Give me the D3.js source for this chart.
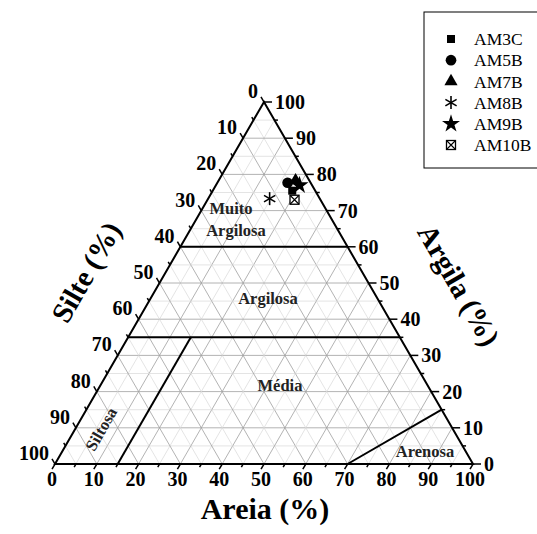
<!DOCTYPE html>
<html>
<head>
<meta charset="utf-8">
<script src="https://cdn.jsdelivr.net/npm/d3@7"></script>
<style>
  html, body { margin: 0; padding: 0; background: #fff; }
  svg { display: block; font-family: "Liberation Serif", "Times New Roman", serif; }
</style>
</head>
<body>
<svg id="chart" width="537" height="534"></svg>
<script>
// ---------- data ----------
const samples = ["AM3C", "AM5B", "AM7B", "AM8B", "AM9B", "AM10B"];
const sandPct = [19.0, 16.8, 18.4, 14.7, 20.0, 20.8];   // Areia (%)
const clayPct = [75.5, 77.7, 78.3, 73.3, 77.0, 73.0];   // Argila (%)
const markerShapes = ["square", "circle", "triangle", "asterisk", "star", "boxx"];
const tickValues = [0, 10, 20, 30, 40, 50, 60, 70, 80, 90, 100];
const classNames = ["Muito", "Argilosa", "Argilosa", "Média", "Siltosa", "Arenosa"];
// class boundaries in (sand, clay) composition
const boundaries = [
  [[0, 60], [40, 60]],   // clay 60
  [[0, 35], [65, 35]],   // clay 35
  [[15, 0], [15, 35]],   // sand 15
  [[70, 0], [85, 15]]    // sand - clay = 70
];

// ---------- geometry ----------
const svg = d3.select("#chart");
const L = 55, R = 473, B = 464;
const W = R - L, H = W * Math.sqrt(3) / 2;
const xs = d3.scaleLinear().domain([0, 100]).range([L, R]);
const ys = d3.scaleLinear().domain([0, 100]).range([B, B - H]);
const P = (s, c) => [xs(s + c / 2), ys(c)];

const g = svg.append("g");

// ---------- grid ----------
const gridVals = d3.range(5, 100, 5);
const gridLines = [];
gridVals.forEach(v => {
  const major = v % 10 === 0;
  gridLines.push({a: P(0, v), b: P(100 - v, v), major});        // clay const
  gridLines.push({a: P(v, 0), b: P(v, 100 - v), major});        // sand const
  gridLines.push({a: P(100 - v, 0), b: P(0, 100 - v), major});   // silt const
});
g.selectAll("line.grid").data(gridLines).join("line")
  .attr("x1", d => d.a[0]).attr("y1", d => d.a[1])
  .attr("x2", d => d.b[0]).attr("y2", d => d.b[1])
  .attr("stroke", d => d.major ? "#a0a0a0" : "#d8d8d8")
  .attr("stroke-width", d => d.major ? 0.8 : 0.7);

// ---------- class boundaries ----------
g.selectAll("line.bound").data(boundaries).join("line")
  .attr("x1", d => P(...d[0])[0]).attr("y1", d => P(...d[0])[1])
  .attr("x2", d => P(...d[1])[0]).attr("y2", d => P(...d[1])[1])
  .attr("stroke", "#000").attr("stroke-width", 2);

// ---------- triangle border ----------
g.append("path")
  .attr("d", d3.line()([P(0, 0), P(100, 0), P(0, 100)]) + "Z")
  .attr("fill", "none").attr("stroke", "#000").attr("stroke-width", 2)
  .attr("stroke-linejoin", "miter");

// ---------- ticks ----------
const minorTicks = d3.range(5, 100, 10);
const c60 = 0.5, s60 = Math.sqrt(3) / 2;
// bottom axis (Areia): ticks down-left
g.selectAll("line.tb").data(tickValues.concat(minorTicks)).join("line")
  .attr("x1", v => P(v, 0)[0]).attr("y1", B)
  .attr("x2", v => P(v, 0)[0] - c60 * (v % 10 ? 3.5 : 6))
  .attr("y2", v => B + s60 * (v % 10 ? 3.5 : 6))
  .attr("stroke", "#000").attr("stroke-width", 1.5);
// left axis (Silte): ticks up-left
g.selectAll("line.tl").data(tickValues.concat(minorTicks)).join("line")
  .attr("x1", v => P(0, 100 - v)[0]).attr("y1", v => P(0, 100 - v)[1])
  .attr("x2", v => P(0, 100 - v)[0] - c60 * (v % 10 ? 3.5 : 6))
  .attr("y2", v => P(0, 100 - v)[1] - s60 * (v % 10 ? 3.5 : 6))
  .attr("stroke", "#000").attr("stroke-width", 1.5);
// right axis (Argila): ticks horizontal right
g.selectAll("line.tr").data(tickValues.concat(minorTicks)).join("line")
  .attr("x1", v => P(100 - v, v)[0]).attr("y1", v => P(100 - v, v)[1])
  .attr("x2", v => P(100 - v, v)[0] + (v % 10 ? 3.5 : 8))
  .attr("y2", v => P(100 - v, v)[1])
  .attr("stroke", "#000").attr("stroke-width", 1.5);

const tickFont = {size: "20px", weight: "bold"};
g.selectAll("text.lb").data(tickValues).join("text")
  .attr("x", v => P(v, 0)[0] - 3).attr("y", B + 22)
  .attr("text-anchor", "middle")
  .attr("font-size", tickFont.size).attr("font-weight", tickFont.weight)
  .text(v => v);
g.selectAll("text.ll").data(tickValues).join("text")
  .attr("x", v => P(0, 100 - v)[0] - 6).attr("y", v => P(0, 100 - v)[1] - 4)
  .attr("text-anchor", "end")
  .attr("font-size", tickFont.size).attr("font-weight", tickFont.weight)
  .text(v => v);
g.selectAll("text.lr").data(tickValues).join("text")
  .attr("x", v => P(100 - v, v)[0] + 11).attr("y", v => P(100 - v, v)[1] + 7)
  .attr("text-anchor", "start")
  .attr("font-size", tickFont.size).attr("font-weight", tickFont.weight)
  .text(v => v);

// ---------- axis titles ----------
g.append("text").attr("x", 265).attr("y", 519).attr("text-anchor", "middle")
  .attr("font-size", "30px").attr("font-weight", "bold").text("Areia (%)");
g.append("text").attr("transform", "translate(86,272) rotate(-60)")
  .attr("text-anchor", "middle").attr("dy", "0.35em")
  .attr("font-size", "29px").attr("font-weight", "bold").text("Silte (%)");
g.append("text").attr("transform", "translate(459,285) rotate(60)")
  .attr("text-anchor", "middle").attr("dy", "0.35em")
  .attr("font-size", "29px").attr("font-weight", "bold").text("Argila (%)");

// ---------- class labels ----------
const classPos = [[231, 208, 0], [236, 230, 0], [268, 298, 0], [280, 385, 0], [101, 429, -60], [425, 451, 0]];
g.selectAll("text.cls").data(classNames).join("text")
  .attr("transform", (d, i) => `translate(${classPos[i][0]},${classPos[i][1]}) rotate(${classPos[i][2]})`)
  .attr("text-anchor", "middle").attr("dy", "0.35em")
  .attr("font-size", "16.5px").attr("font-weight", "bold").attr("fill", "#222")
  .text(d => d);

// ---------- markers ----------
function drawMarker(sel, shape, k) {
  const sym = {square: d3.symbolSquare, circle: d3.symbolCircle, triangle: d3.symbolTriangle, star: d3.symbolStar};
  if (sym[shape]) {
    const sizes = {square: 64 * k, circle: 90 * k, triangle: 75 * k, star: 100 * k};
    sel.append("path").attr("d", d3.symbol(sym[shape], sizes[shape])()).attr("fill", "#000");
  } else if (shape === "asterisk") {
    const r = 6.5 * k;
    [0, 60, 120].forEach(a => {
      const t = a * Math.PI / 180;
      sel.append("line").attr("x1", -r * Math.sin(t)).attr("y1", -r * Math.cos(t))
        .attr("x2", r * Math.sin(t)).attr("y2", r * Math.cos(t))
        .attr("stroke", "#000").attr("stroke-width", 1.6);
    });
  } else if (shape === "boxx") {
    const h = 4.5 * k;
    sel.append("rect").attr("x", -h).attr("y", -h).attr("width", 2 * h).attr("height", 2 * h)
      .attr("fill", "#fff").attr("stroke", "#000").attr("stroke-width", 1.3);
    sel.append("path").attr("d", `M${-h},${-h}L${h},${h}M${h},${-h}L${-h},${h}`)
      .attr("stroke", "#000").attr("stroke-width", 1.1);
  }
}
samples.forEach((s, i) => {
  const [x, y] = P(sandPct[i], clayPct[i]);
  const m = g.append("g").attr("transform", `translate(${x},${y})`);
  drawMarker(m, markerShapes[i], 1);
});

// ---------- legend ----------
const lg = svg.append("g");
lg.append("rect").attr("x", 424).attr("y", 12).attr("width", 130).attr("height", 156)
  .attr("fill", "#fff").attr("stroke", "#000").attr("stroke-width", 1);
const rowY = d3.scaleLinear().domain([0, samples.length - 1]).range([39, 145]);
samples.forEach((s, i) => {
  const m = lg.append("g").attr("transform", `translate(451,${rowY(i)})`);
  drawMarker(m, markerShapes[i], 1);
  lg.append("text").attr("x", 474).attr("y", rowY(i)).attr("dy", "0.35em")
    .attr("font-size", "17.5px").text(s);
});
</script>
</body>
</html>
